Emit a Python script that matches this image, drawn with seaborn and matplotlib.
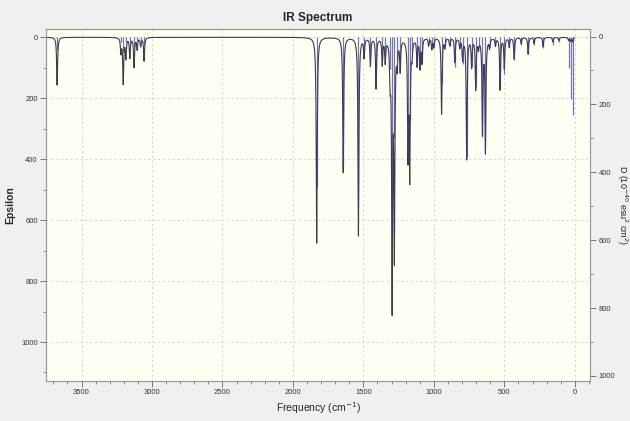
import matplotlib
matplotlib.use("Agg")
import matplotlib.pyplot as plt
import numpy as np
import pandas as pd
import seaborn as sns
from matplotlib.ticker import MultipleLocator

# peak positions (cm-1), curve height (Epsilon) and stick height (D)
freqs = [3673, 3220, 3204, 3185, 3157, 3127, 3105, 3080, 3056,
         1831, 1643, 1535, 1495, 1450, 1410, 1366, 1345, 1310, 1296, 1280,
         1260, 1239, 1183, 1171, 1155, 1119, 1098, 1084, 1037, 1014, 1000,
         945, 922, 887, 851, 816, 796, 767, 732, 703, 683, 655, 634,
         605, 563, 530, 500, 465, 430, 380, 331, 289, 225, 155, 113,
         44, 30, 14]
epsilon = [157, 48, 149, 66, 66, 96, 38, 28, 77,
           675, 443, 650, 62, 91, 165, 85, 75, 110, 860, 690,
           75, 100, 370, 440, 50, 88, 95, 78, 25, 36, 30,
           250, 30, 25, 80, 30, 70, 398, 92, 167, 30, 310, 370,
           30, 25, 170, 100, 30, 70, 20, 55, 20, 30, 15, 10,
           10, 12, 15]
d_stick = [40, 15, 45, 20, 22, 30, 12, 10, 25,
           443, 381, 499, 45, 65, 120, 70, 60, 95, 575, 300,
           65, 90, 373, 250, 45, 75, 85, 70, 22, 30, 28,
           136, 30, 28, 90, 35, 80, 355, 90, 150, 30, 290, 330,
           30, 25, 155, 110, 35, 70, 25, 50, 25, 35, 25, 15,
           92, 185, 232]

hwhm = 4.0
grid = np.arange(0, 3760, 0.5)
spec = np.zeros_like(grid)
for f, e in zip(freqs, epsilon):
    spec += e * hwhm ** 2 / ((grid - f) ** 2 + hwhm ** 2)
curve = pd.DataFrame({"freq": grid, "eps": spec})

sns.set_theme(style="white")
plt.rcParams["font.family"] = ["Liberation Sans", "DejaVu Sans"]

fig = plt.figure(figsize=(6.3, 4.21), dpi=100, facecolor="#f0f0f0")
ax = fig.add_axes([0.073, 0.095, 0.864, 0.836])
ax.set_facecolor("#fffff4")

sns.lineplot(data=curve, x="freq", y="eps", ax=ax, color="#3c3c46",
             linewidth=0.8, sort=False, estimator=None)
ax.set_xlim(3752, -110)
ax.set_ylim(1128, -27)

ax2 = ax.twinx()
ax2.vlines(freqs, 0, d_stick, color="#3a3a96", linewidth=0.9, alpha=0.7)
ax2.set_ylim(1015, -22)

for a in (ax, ax2):
    for s in a.spines.values():
        s.set_color("#9a9a9a")
        s.set_linewidth(0.8)

ax.xaxis.set_major_locator(MultipleLocator(500))
ax.xaxis.set_minor_locator(MultipleLocator(100))
ax.yaxis.set_major_locator(MultipleLocator(200))
ax.yaxis.set_minor_locator(MultipleLocator(100))
ax2.yaxis.set_major_locator(MultipleLocator(200))
ax2.yaxis.set_minor_locator(MultipleLocator(100))

for a in (ax, ax2):
    a.tick_params(which="major", direction="out", length=4, width=0.7,
                  color="#777777", labelsize=5.5, labelcolor="#333333", pad=2)
    a.tick_params(which="minor", direction="out", length=2, width=0.6,
                  color="#777777")
ax.tick_params(axis="x", which="both", bottom=True)
ax.tick_params(axis="y", which="both", left=True)
ax2.tick_params(axis="y", which="both", right=True)

ax.grid(True, which="major", linestyle=(0, (2, 3)), color="#cfcfcf",
        linewidth=0.7)

ax.set_title("IR Spectrum", fontsize=8.5, fontweight="bold", pad=6)
ax.set_xlabel("Frequency (cm$^{-1}$)", fontsize=7.5, labelpad=3)
ax.set_ylabel("Epsilon", fontsize=7.5, fontweight="bold", labelpad=4)
ax2.set_ylabel("D (10$^{-40}$ esu$^{2}$ cm$^{2}$)", fontsize=6.5,
               rotation=270, va="center", ha="center")
ax2.yaxis.set_label_coords(1.058, 0.5)

fig.savefig("out.png", dpi=100, facecolor=fig.get_facecolor())
